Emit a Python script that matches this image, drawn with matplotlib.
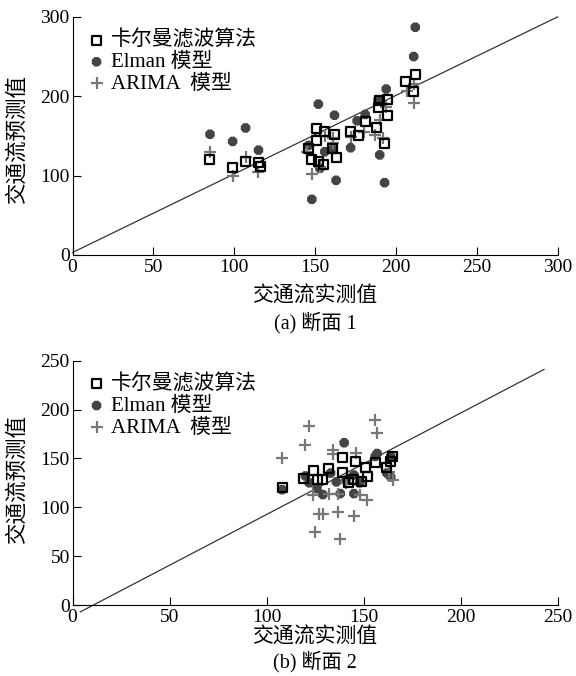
import matplotlib
matplotlib.use('Agg')
import matplotlib.pyplot as plt

plt.rcParams['font.family'] = ['Liberation Serif', 'Noto Sans CJK SC']
plt.rcParams['font.size'] = 14

# 断面 1
kal1_x = [85, 99, 107, 115, 116, 146, 148, 151, 151, 152, 155, 156, 162, 161, 163, 172, 177, 181, 188, 189, 190, 193, 195, 195, 206, 211, 212]
kal1_y = [120, 110, 118, 117, 112, 134, 120, 159, 144, 118, 114, 155, 152, 134, 123, 156, 151, 168, 160, 186, 195, 141, 196, 176, 218, 206, 227]
elm1_x = [85, 99, 107, 115, 146, 148, 152, 153, 156, 162, 163, 161, 172, 176, 181, 189, 190, 193, 194, 211, 212]
elm1_y = [152, 143, 160, 132, 138, 70, 190, 109, 130, 176, 94, 133, 135, 169, 177, 195, 126, 91, 209, 250, 287]
ari1_x = [85, 99, 107, 115, 145, 148, 156, 153, 161, 161, 172, 180, 187, 192, 190, 194, 207, 211, 211]
ari1_y = [130, 100, 123, 105, 130, 102, 150, 111, 141, 147, 149, 155, 151, 147, 170, 187, 206, 216, 191]

# 断面 2
kal2_x = [108, 119, 124, 126, 129, 132, 139, 139, 142, 145, 146, 151, 152, 149, 156, 162, 164, 165]
kal2_y = [120, 129, 138, 128, 128, 140, 151, 136, 125, 128, 147, 141, 131, 126, 146, 141, 147, 152]
elm2_x = [108, 120, 122, 126, 129, 133, 136, 138, 140, 141, 145, 145, 148, 156, 157, 162, 164, 164]
elm2_y = [118, 132, 125, 119, 113, 135, 126, 114, 166, 128, 133, 114, 125, 152, 155, 135, 152, 131]
ari2_x = [108, 120, 122, 125, 124, 127, 129, 132, 134, 134, 137, 138, 137, 141, 145, 146, 148, 152, 156, 157, 163, 165]
ari2_y = [150, 164, 183, 75, 113, 93, 93, 114, 159, 154, 95, 68, 114, 125, 91, 156, 113, 107, 189, 176, 136, 128]

# 拟合线
line1_x = [0, 300]
line1_y = [3, 300]
line2_x = [4, 243]
line2_y = [-7, 241]

fig = plt.figure(figsize=(5.76, 6.76), dpi=100)
ax1 = fig.add_axes([0.126, 0.623, 0.842, 0.352])
ax2 = fig.add_axes([0.126, 0.105, 0.842, 0.3615])


def draw(ax, kx, ky, ex, ey, ax_, ay, lx, ly, lim, ystep):
    ax.plot(lx, ly, color='#333333', lw=0.9, clip_on=False, zorder=1)
    ax.scatter(ex, ey, marker='8', s=55, color='#444444', edgecolors='none', label='Elman 模型', zorder=2)
    ax.scatter(ax_, ay, marker='+', s=80, color='#777777', linewidths=1.6, label='ARIMA  模型', zorder=3)
    ax.scatter(kx, ky, marker='s', s=42, facecolors='none', edgecolors='black', linewidths=1.6, label='卡尔曼滤波算法', zorder=4)
    ax.set_xlim(0, lim)
    ax.set_ylim(0, lim)
    ax.set_xticks(range(0, lim + 1, 50))
    ax.set_yticks(range(0, lim + 1, ystep))
    for s in ['top', 'right']:
        ax.spines[s].set_visible(False)
    ax.tick_params(direction='in', length=6, labelsize=14)
    ax.tick_params(axis='x', pad=3)
    ax.tick_params(axis='y', pad=2)
    h, l = ax.get_legend_handles_labels()
    ax.legend([h[2], h[0], h[1]], [l[2], l[0], l[1]], loc='upper left', frameon=False,
              fontsize=15, handletextpad=0.2, labelspacing=0.1, borderaxespad=0.25,
              handlelength=1.0, scatterpoints=1)


draw(ax1, kal1_x, kal1_y, elm1_x, elm1_y, ari1_x, ari1_y, line1_x, line1_y, 300, 100)
draw(ax2, kal2_x, kal2_y, elm2_x, elm2_y, ari2_x, ari2_y, line2_x, line2_y, 250, 50)

# 坐标轴标题与小标题
fig.text(0.547, 0.5615, '交通流实测值', ha='center', va='center', fontsize=15)
fig.text(0.547, 0.522, '(a) 断面 1', ha='center', va='center', fontsize=14.5)
fig.text(0.547, 0.0565, '交通流实测值', ha='center', va='center', fontsize=15)
fig.text(0.547, 0.0205, '(b) 断面 2', ha='center', va='center', fontsize=14.5)
fig.text(0.031, 0.793, '交通流预测值', ha='center', va='center', rotation=90, fontsize=15.5)
fig.text(0.031, 0.29, '交通流预测值', ha='center', va='center', rotation=90, fontsize=15.5)

fig.savefig('out.png', dpi=100)
